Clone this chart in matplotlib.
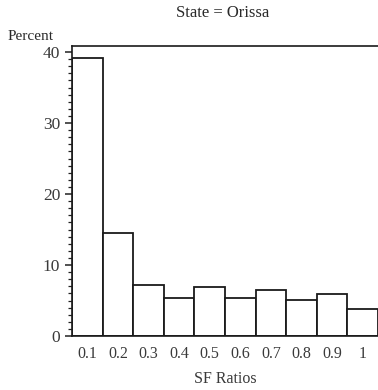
import matplotlib
matplotlib.use("Agg")
import matplotlib.pyplot as plt
from matplotlib.ticker import MultipleLocator

plt.rcParams['font.family'] = ['Liberation Serif', 'DejaVu Serif']

# Histogram of SF ratios for Orissa
sf_ratios = [0.1, 0.2, 0.3, 0.4, 0.5, 0.6, 0.7, 0.8, 0.9, 1.0]
tick_labels = ['0.1', '0.2', '0.3', '0.4', '0.5', '0.6', '0.7', '0.8', '0.9', '1']
percent = [39.1, 14.45, 7.15, 5.4, 6.85, 5.4, 6.45, 5.05, 5.9, 3.85]

fig = plt.figure(figsize=(3.78, 3.90), dpi=100)
ax = fig.add_axes([72/378, 54/390, 1 - 72/378, (336 - 46)/390])

ax.bar(sf_ratios, percent, width=0.1, color='white', edgecolor='#1a1a1a', linewidth=1.3)

ax.set_xlim(0.05, 1.05)
ax.set_ylim(0, 40.85)
ax.set_xticks(sf_ratios)
ax.set_xticklabels(tick_labels)
ax.tick_params(axis='x', length=0, pad=7, labelsize=11.5, colors='#3a3a3a')
ax.set_yticks([0, 10, 20, 30, 40])
ax.yaxis.set_minor_locator(MultipleLocator(1))
ax.tick_params(axis='y', which='major', length=5, width=1.1, labelsize=12.5, colors='#222222', labelcolor='#3a3a3a')
ax.tick_params(axis='y', which='minor', length=3, width=0.9, colors='#222222')

ax.spines['right'].set_visible(False)
for s in ('left', 'top', 'bottom'):
    ax.spines[s].set_linewidth(1.2)
    ax.spines[s].set_color('#1a1a1a')

ax.set_xlabel('SF Ratios', fontsize=11.5, labelpad=7, color='#3a3a3a')
fig.text(8/378, 1 - 37/390, 'Percent', fontsize=11, ha='left', va='center', color='#2a2a2a')
fig.text(223/378, 1 - 13/390, 'State = Orissa', fontsize=12, ha='center', va='center', color='#2a2a2a')

fig.savefig('out.png', dpi=100)
